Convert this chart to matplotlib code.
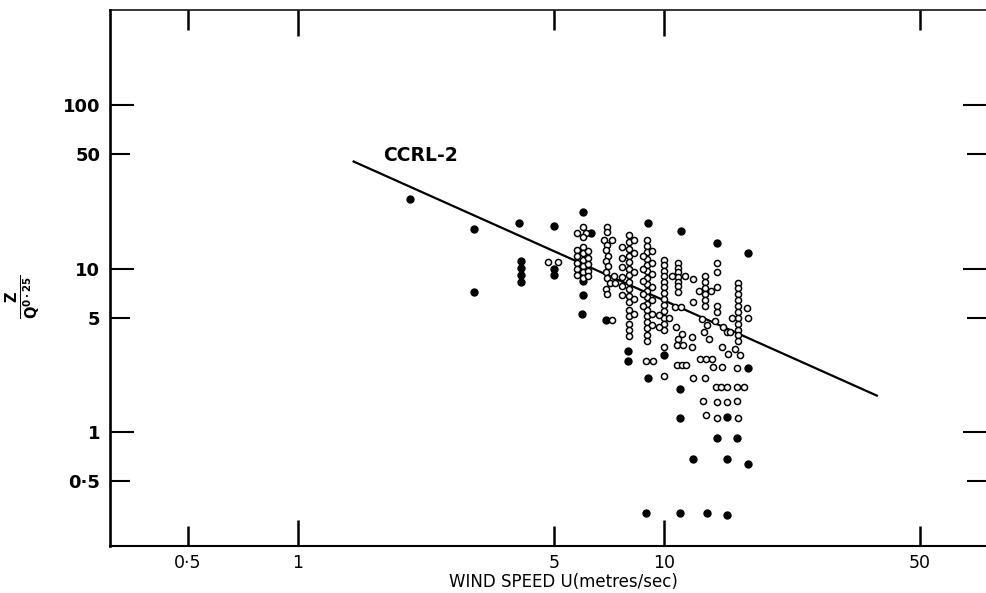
import matplotlib
matplotlib.use("Agg")
import matplotlib.pyplot as plt

# ---------------- data ----------------
# CCRL-2 line end points (wind speed U, Z/Q^0.25)
line_u = [1.41, 38.4]
line_z = [45.4, 1.66]

# filled dots
filled_u = [2.02, 3.03, 3.03, 4.02, 4.07, 4.07, 4.07, 4.07, 5.0, 5.0, 5.0,
            6.0, 6.3, 6.0, 6.0, 5.97, 6.94, 7.97, 7.97, 9.04, 9.04, 8.93,
            10.0, 11.1, 13.96, 16.96, 11.06, 11.06, 11.06, 12.0, 13.1,
            14.86, 13.96, 14.9, 14.86, 16.96, 15.83, 16.96]
filled_z = [26.6, 17.5, 7.2, 19.0, 11.1, 10.1, 9.1, 8.3, 18.2, 10.0, 9.1,
            22.2, 16.6, 8.4, 6.9, 5.27, 4.84, 3.13, 2.72, 19.0, 2.14, 0.32,
            2.96, 16.9, 14.3, 12.4, 1.83, 1.22, 0.32, 0.68, 0.32,
            1.24, 0.92, 0.68, 0.31, 2.46, 0.92, 0.64]

# open circles
open_u = [4.82, 5.13,
          6.0, 5.8, 6.12, 6.0,
          5.8, 5.8, 5.8, 5.8, 5.8,
          6.0, 6.0, 6.0, 6.0, 6.0, 6.0,
          6.2, 6.2, 6.2, 6.2, 6.2,
          7.0, 7.0, 6.85, 7.2, 7.0, 6.95, 7.05, 6.95, 7.05, 6.95, 7.0, 7.1,
          6.95, 7.0, 7.21, 7.3, 7.35,
          8.0, 8.0, 8.0, 8.0, 8.0, 8.0, 8.0, 8.0, 8.0, 8.0, 8.0, 8.0, 8.0,
          8.0, 8.0, 8.0,
          7.7, 7.7, 7.7, 7.7, 7.7, 7.7,
          8.3, 8.3, 8.3, 8.3, 8.3,
          9.0, 9.0, 9.0, 9.0, 9.0, 9.0, 9.0, 9.0, 9.0, 9.0, 9.0, 9.0, 9.0,
          9.0, 9.0, 9.0, 9.0,
          8.75, 8.75, 8.75, 8.75, 8.75,
          9.3, 9.3, 9.3, 9.3, 9.3, 9.3, 9.3,
          8.93, 9.33,
          10.0, 10.0, 10.0, 10.0, 10.0, 10.0, 10.0, 10.0, 10.0, 10.0, 10.0,
          10.0, 10.0,
          9.7, 9.7, 10.0, 10.0,
          10.9, 10.9, 10.9, 10.9, 10.9, 10.9, 10.9,
          10.5, 11.4,
          10.8, 11.2, 10.9, 10.3, 10.7, 11.1,
          10.85, 11.3, 10.85, 11.2, 11.5,
          12.0, 12.0, 11.9, 11.9, 12.0,
          12.94, 12.94, 12.94, 12.94, 12.94, 12.94, 12.5, 13.4,
          12.7, 13.1, 12.9, 13.3,
          12.54, 13.0, 13.5, 13.6, 14.4, 12.94, 12.8, 13.0,
          13.96, 13.96, 13.96, 14.0, 14.0, 13.8, 14.5, 14.9, 14.4, 15.0, 15.6,
          16.1,
          13.9, 14.3, 14.9, 13.96, 14.86, 13.96,
          15.9, 15.9, 15.9, 15.9, 15.9, 15.9, 15.9, 15.9, 15.9, 15.9, 15.9,
          16.9, 16.96, 15.3, 15.1,
          15.83, 15.8, 16.5, 15.83, 15.9]
open_z = [11.0, 11.0,
          18.0, 16.6, 16.6, 15.6,
          13.0, 11.9, 10.8, 9.9, 9.1,
          13.5, 12.4, 11.3, 10.4, 9.5, 8.75,
          12.8, 11.6, 10.6, 9.7, 9.0,
          18.0, 16.8, 15.0, 15.0, 13.9, 12.9, 12.0, 11.1, 10.3, 9.5, 8.8, 8.1,
          7.5, 7.0, 4.84, 9.0, 8.2,
          16.0, 14.6, 13.2, 12.0, 11.0, 10.0, 9.1, 8.3, 7.5, 6.8, 6.2, 5.6, 5.1,
          4.6, 4.2, 3.85,
          13.5, 11.6, 10.2, 8.9, 7.8, 6.9,
          15.0, 12.5, 9.5, 6.5, 5.3,
          15.0, 13.8, 12.6, 11.5, 10.5, 9.6, 8.8, 8.0, 7.3, 6.7, 6.1, 5.6, 5.1,
          4.7, 4.3, 3.9, 3.6,
          12.0, 10.0, 8.4, 7.0, 5.9,
          12.8, 10.8, 9.2, 7.7, 6.4, 5.3, 4.5,
          2.72, 2.72,
          11.3, 10.5, 9.7, 9.0, 8.3, 7.7, 7.1, 6.5, 6.0, 5.5, 5.0,
          4.6, 4.2,
          5.2, 4.4, 3.31, 2.2,
          10.8, 10.1, 9.5, 8.9, 8.3, 7.8, 7.2,
          9.0, 9.0,
          4.4, 4.0, 3.7, 5.0, 5.8, 5.8,
          3.4, 3.4, 2.57, 2.57, 2.57,
          8.6, 6.2, 3.8, 3.3, 2.14,
          9.0, 8.3, 7.6, 7.0, 6.4, 5.9, 7.3, 7.3,
          4.9, 4.5, 4.1, 3.7,
          2.79, 2.79, 2.79, 2.5, 2.5, 2.14, 1.55, 1.27,
          10.8, 9.5, 7.7, 5.9, 5.4, 4.8, 4.4, 4.1, 3.3, 3.0, 3.2,
          2.95,
          1.88, 1.88, 1.88, 1.53, 1.53, 1.22,
          8.2, 7.6, 7.0, 6.4, 5.9, 5.4, 5.0, 4.6, 4.2, 3.9, 3.6,
          5.7, 5.0, 5.0, 4.1,
          2.46, 1.88, 1.88, 1.55, 1.22]

x_major = [1, 10]
x_major_labels = ["1", "10"]
x_minor = [0.5, 5, 50]
x_minor_labels = ["0·5", "5", "50"]
y_major = [1, 10, 100]
y_major_labels = ["1", "10", "100"]
y_minor = [0.5, 5, 50]
y_minor_labels = ["0·5", "5", "50"]

# ---------------- figure ----------------
fig = plt.figure(figsize=(9.87, 5.93), dpi=100)
ax = fig.add_axes([110/987, 1 - 546/593, 1 - 110/987, (546 - 10)/593])
ax.set_xscale("log")
ax.set_yscale("log")
ax.set_xlim(0.3064, 76.3)
ax.set_ylim(0.201, 381)

ax.plot(line_u, line_z, color="black", lw=1.6, zorder=2, solid_capstyle="butt")
ax.plot(filled_u, filled_z, linestyle="none", marker="o", ms=5.0,
        mfc="black", mec="black", zorder=3)
ax.plot(open_u, open_z, linestyle="none", marker="o", ms=4.4,
        mfc="white", mec="black", mew=1.1, zorder=4)

ax.text(1.707, 49.4, "CCRL-2", ha="left", va="center", fontsize=13.5,
        fontweight="bold", color="black")

ax.set_xticks(x_major, labels=x_major_labels)
ax.set_xticks(x_minor, labels=x_minor_labels, minor=True)
ax.set_yticks(y_major, labels=y_major_labels)
ax.set_yticks(y_minor, labels=y_minor_labels, minor=True)

ax.tick_params(axis="x", which="major", direction="in", length=19, width=1.8,
               top=True, bottom=True, labelsize=12.5, pad=6)
ax.tick_params(axis="x", which="minor", direction="in", length=14.5, width=1.8,
               top=True, bottom=True, labelsize=12.5, pad=6)
ax.tick_params(axis="y", which="major", direction="in", length=17, width=1.5,
               left=True, right=True, labelsize=13, pad=7)
ax.tick_params(axis="y", which="minor", direction="in", length=14.5, width=1.5,
               left=True, right=True, labelsize=13, pad=7)
for lab in ax.get_yticklabels(which="both"):
    lab.set_fontweight("bold")

ax.spines["left"].set_linewidth(1.9)
ax.spines["bottom"].set_linewidth(1.5)
ax.spines["top"].set_linewidth(1.1)
ax.spines["right"].set_visible(False)

ax.set_xlabel("WIND SPEED U(metres/sec)", fontsize=12)
ax.xaxis.set_label_coords(0.5165, -0.051)
ax.set_ylabel(r"$\mathbf{\frac{Z}{Q^{0\cdot25}}}$", fontsize=15, rotation=90)
ax.yaxis.set_label_coords(-0.0775, 0.4646)

fig.savefig("out.png", dpi=100)
